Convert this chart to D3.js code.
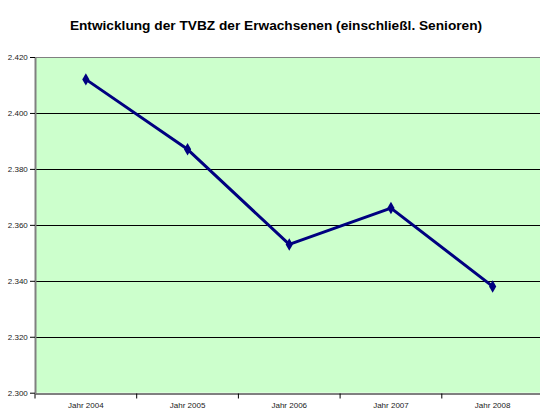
<!DOCTYPE html>
<html><head><meta charset="utf-8">
<script src="https://cdn.jsdelivr.net/npm/d3@7"></script>
<style>body{margin:0;background:#fff;overflow:hidden;}svg{display:block;}</style>
</head><body>
<script>
const categories = ["Jahr 2004","Jahr 2005","Jahr 2006","Jahr 2007","Jahr 2008"];
const values = [2.412, 2.387, 2.353, 2.366, 2.338];
const yTicks = [2.300, 2.320, 2.340, 2.360, 2.380, 2.400, 2.420];
const title = "Entwicklung der TVBZ der Erwachsenen (einschließl. Senioren)";

const W = 540, H = 409;
const m = {left: 35, top: 57, right: 543.5, bottom: 392.7};
const svg = d3.select("body").append("svg").attr("width", W).attr("height", H);

const x = d3.scaleBand().domain(categories).range([m.left, m.right]);
const y = d3.scaleLinear().domain([2.30, 2.42]).range([m.bottom, m.top]);
const fmt = d => d3.format(".3f")(d);

svg.append("rect").attr("x", m.left).attr("y", m.top)
  .attr("width", m.right - m.left).attr("height", m.bottom - m.top)
  .attr("fill", "#CCFFCC");

// gridlines
svg.append("g").selectAll("line").data(yTicks.filter(t => t > 2.30 && t < 2.42)).join("line")
  .attr("x1", m.left).attr("x2", m.right)
  .attr("y1", d => Math.round(y(d)) + 0.5).attr("y2", d => Math.round(y(d)) + 0.5)
  .attr("stroke", "#000").attr("stroke-width", 1);
// top border
svg.append("line").attr("x1", m.left).attr("x2", m.right)
  .attr("y1", Math.round(m.top) + 0.5).attr("y2", Math.round(m.top) + 0.5)
  .attr("stroke", "#808080");

// y axis
const yAxis = d3.axisLeft(y).tickValues(yTicks).tickFormat(fmt).tickSize(5).tickSizeOuter(0);
const gy = svg.append("g").attr("transform", `translate(${m.left},0)`).call(yAxis);
gy.select(".domain").attr("stroke", "#808080").attr("stroke-width", 2);
gy.selectAll(".tick line").attr("stroke", "#000");
gy.selectAll("text").attr("font-family", "Liberation Sans, Arial, sans-serif")
  .attr("font-size", 8).attr("fill", "#222").attr("dx", "0.1em");

// x axis
const xAxis = d3.axisBottom(x).tickSize(5).tickSizeOuter(0);
const gx = svg.append("g").attr("transform", `translate(0,${Math.round(m.bottom) + 0.5})`).call(xAxis);
gx.select(".domain").attr("stroke", "#000");
gx.selectAll(".tick line").attr("stroke", "#000")
  .attr("transform", `translate(${-x.bandwidth()/2},0)`);
gx.selectAll("text").attr("font-family", "Liberation Sans, Arial, sans-serif")
  .attr("font-size", 8).attr("fill", "#222").attr("y", 14.5).attr("dy", null);

// line
const line = d3.line().x((d, i) => x(categories[i]) + x.bandwidth()/2).y(d => y(d));
svg.append("path").datum(values).attr("d", line)
  .attr("fill", "none").attr("stroke", "#000080").attr("stroke-width", 3).attr("stroke-linejoin", "round");
svg.append("g").selectAll("path").data(values).join("path")
  .attr("d", d3.symbol().type(d3.symbolDiamond).size(45))
  .attr("transform", (d, i) => `translate(${x(categories[i]) + x.bandwidth()/2},${y(d)})`)
  .attr("fill", "#000080");

svg.append("text").attr("x", 276).attr("y", 30).attr("text-anchor", "middle")
  .attr("font-family", "Liberation Sans, Arial, sans-serif").attr("font-weight", "bold")
  .attr("font-size", 13.7).attr("fill", "#000").text(title);
</script>
</body></html>
